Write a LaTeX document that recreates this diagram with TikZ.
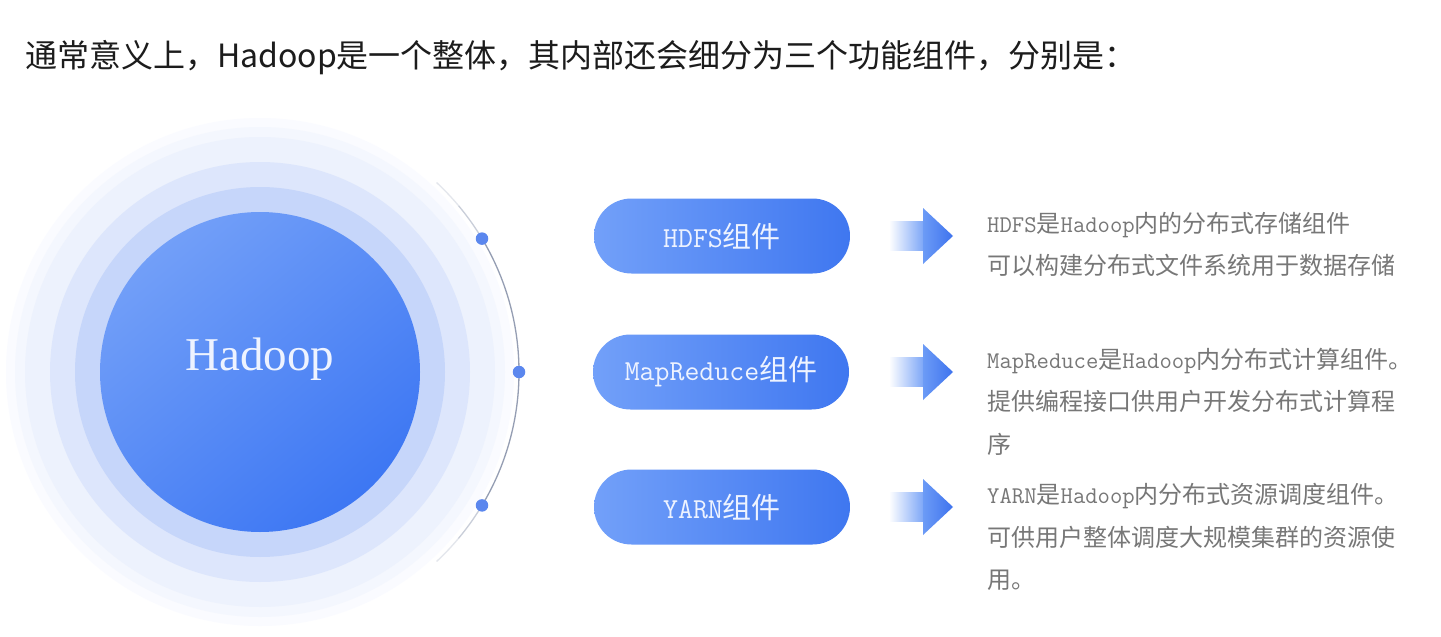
\documentclass[tikz,border=0pt]{standalone}
\usepackage{fontspec}
\newfontfamily\cjk{Noto Sans CJK SC}
\newfontfamily\serifhd{Liberation Serif}
\newcommand\latn[1]{{\ttfamily #1}}
\usetikzlibrary{calc}
\definecolor{innerA}{HTML}{729FF8}
\definecolor{innerB}{HTML}{3D77F3}
\definecolor{ringA}{HTML}{C6D6FA}
\definecolor{ringB}{HTML}{DDE6FC}
\definecolor{ringC}{HTML}{EDF2FD}
\definecolor{ringD}{HTML}{F4F7FE}
\definecolor{ringE}{HTML}{FAFBFF}
\definecolor{pillA}{HTML}{72A0F9}
\definecolor{pillB}{HTML}{3F77F0}
\definecolor{pilltext}{HTML}{EEF3FF}
\definecolor{dotblue}{HTML}{5B87EE}
\definecolor{arcmid}{HTML}{959EB3}
\definecolor{arclight}{HTML}{C9CED9}
\definecolor{arcfaint}{HTML}{E3E6EC}
\definecolor{arrA}{HTML}{6C9BF6}
\definecolor{arrB}{HTML}{3E73EE}
\definecolor{desctext}{HTML}{777777}
\definecolor{titletext}{HTML}{1C1C1C}
\tikzset{
  pill/.style={rectangle, rounded corners=37.5pt, minimum width=256pt, minimum height=75pt,
    inner sep=0pt, left color=pillA, right color=pillB, text=pilltext,
    font=\cjk\fontsize{29}{29}\selectfont},
  dotnode/.style={circle, fill=dotblue, inner sep=0pt, minimum size=12.5pt},
  desc/.style={anchor=base west, inner sep=0pt, text=desctext, font=\cjk\fontsize{24}{24}\selectfont},
  shaftshade/.style={left color=white, right color=arrA!90},
  headshade/.style={left color=arrA, right color=arrB},
}
\begin{document}
\begin{tikzpicture}[x=1pt,y=-1pt]
\useasboundingbox[fill=white] (0,0) rectangle (1441,637);

% title
\node[anchor=base west, inner sep=0pt, text=titletext, font=\cjk\fontsize{32}{32}\selectfont]
  (title) at (25,67) {通常意义上，Hadoop是一个整体，其内部还会细分为三个功能组件，分别是：};

% central circle with rings
\coordinate (c) at (260,372);
\fill[ringE] (c) circle[radius=254pt];
\fill[ringD] (c) circle[radius=245pt];
\fill[ringC] (c) circle[radius=235pt];
\fill[ringB] (c) circle[radius=210pt];
\fill[ringA] (c) circle[radius=185pt];
\shade[top color=innerA, bottom color=innerB, shading angle=40] (c) circle[radius=160pt];
\node[anchor=base, inner sep=0pt, text=pilltext, font=\serifhd\fontsize{47}{47}\selectfont]
  (hadoop) at (260,370) {Hadoop};

% arc
\draw[arcfaint, line width=1.3pt] ($(c)+(-47:259pt)$) arc[start angle=-47, end angle=-40, radius=259pt];
\draw[arclight, line width=1.3pt] ($(c)+(-40:259pt)$) arc[start angle=-40, end angle=-30, radius=259pt];
\draw[arcmid, line width=1.3pt] ($(c)+(-30:259pt)$) arc[start angle=-30, end angle=30, radius=259pt];
\draw[arclight, line width=1.3pt] ($(c)+(30:259pt)$) arc[start angle=30, end angle=40, radius=259pt];
\draw[arcfaint, line width=1.3pt] ($(c)+(40:259pt)$) arc[start angle=40, end angle=47, radius=259pt];
\node[dotnode] (dot1) at ($(c)+(31:259pt)$) {};
\node[dotnode] (dot2) at ($(c)+(0:259pt)$) {};
\node[dotnode] (dot3) at ($(c)+(-31:259pt)$) {};

% pills
\node[pill] (hdfs) at (722,236) {\latn{HDFS}组件};
\node[pill] (mr) at (721,372) {\latn{MapReduce}组件};
\node[pill] (yarn) at (722,507) {\latn{YARN}组件};

% arrows
\foreach \yy in {236,372,507}{
  \shade[shaftshade] (889,\yy-14.5) rectangle (924,\yy+14.5);
  \shade[headshade] (923,\yy-28) -- (953,\yy) -- (923,\yy+28) -- cycle;
}

% descriptions
\node[desc] (h1) at (987,232) {\latn{HDFS}是\latn{Hadoop}内的分布式存储组件};
\node[desc] (h2) at (987,274) {可以构建分布式文件系统用于数据存储};
\node[desc] (m1) at (987,368) {\latn{MapReduce}是\latn{Hadoop}内分布式计算组件。};
\node[desc] (m2) at (987,410) {提供编程接口供用户开发分布式计算程};
\node[desc] (m3) at (987,453) {序};
\node[desc] (y1) at (987,503) {\latn{YARN}是\latn{Hadoop}内分布式资源调度组件。};
\node[desc] (y2) at (987,546) {可供用户整体调度大规模集群的资源使};
\node[desc] (y3) at (987,588) {用。};
\end{tikzpicture}
\end{document}
